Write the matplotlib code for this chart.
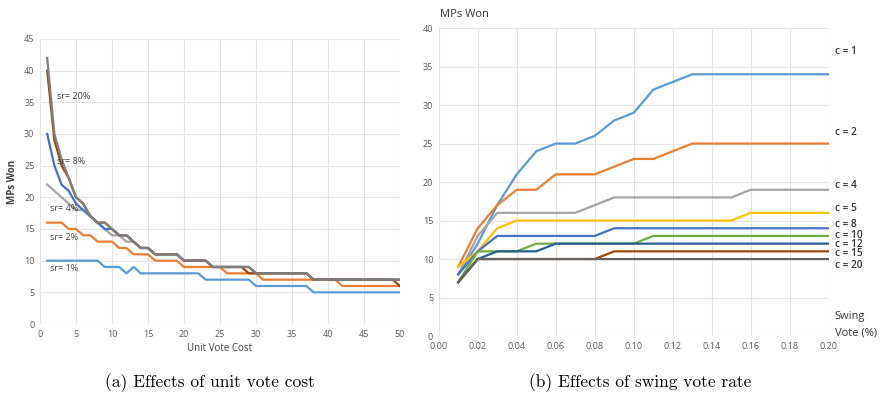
import matplotlib.pyplot as plt
import numpy as np

# ---- left panel: unit vote cost ----
cost = list(range(1, 51))
sr1 = [10]*8 + [9]*3 + [8, 9] + [8]*9 + [7]*7 + [6]*8 + [5]*13
sr2 = [16]*3 + [15]*2 + [14]*2 + [13]*3 + [12]*2 + [11]*3 + [10]*4 + [9]*6 + [8]*5 + [7]*11 + [6]*9
sr4 = [22, 21, 20, 19, 18, 18, 17, 16, 15, 14, 14, 13, 13, 12, 12] + [11]*4 + [10]*4 + [9]*6 + [8]*8 + [7]*13
sr8 = [30, 25, 22, 21, 19, 18, 17, 16, 15, 15, 14, 14, 13, 12, 12] + [11]*4 + [10]*4 + [9]*6 + [8]*8 + [7]*13
sr20 = [40, 29, 25, 23, 20, 19, 17, 16, 16, 15, 14, 14, 13, 12, 12] + [11]*4 + [10]*4 + [9]*5 + [8]*9 + [7]*12 + [6]
srtop = [42, 30, 26, 23, 20, 19, 17, 16, 16, 15, 14, 14, 13, 12, 12] + [11]*4 + [10]*4 + [9]*6 + [8]*8 + [7]*13

left_series = [sr1, sr2, sr4, sr8, sr20, srtop]
left_colors = ['#5B9BD5', '#ED7D31', '#A5A5A5', '#4472C4', '#9E480E', '#7F7F7F']
left_labels = ['sr= 20%', 'sr= 8%', 'sr= 4%', 'sr= 2%', 'sr= 1%']
left_label_pos = [(2.4, 35.9), (2.4, 25.7), (1.4, 18.3), (1.4, 13.6), (1.4, 8.8)]

# ---- right panel: swing vote rate ----
swing = [0.01, 0.02, 0.03, 0.04, 0.05, 0.06, 0.07, 0.08, 0.09, 0.10,
         0.11, 0.12, 0.13, 0.14, 0.15, 0.16, 0.17, 0.18, 0.19, 0.20]
c1 = [8, 12, 17, 21, 24, 25, 25, 26, 28, 29, 32, 33, 34, 34, 34, 34, 34, 34, 34, 34]
c2 = [9, 14, 17, 19, 19, 21, 21, 21, 22, 23, 23, 24, 25, 25, 25, 25, 25, 25, 25, 25]
c4 = [8, 13, 16, 16, 16, 16, 16, 17, 18, 18, 18, 18, 18, 18, 18, 19, 19, 19, 19, 19]
c5 = [9, 11, 14, 15, 15, 15, 15, 15, 15, 15, 15, 15, 15, 15, 15, 16, 16, 16, 16, 16]
c8 = [8, 11, 13, 13, 13, 13, 13, 13, 14, 14, 14, 14, 14, 14, 14, 14, 14, 14, 14, 14]
c10 = [7, 11, 11, 11, 12, 12, 12, 12, 12, 12, 13, 13, 13, 13, 13, 13, 13, 13, 13, 13]
c12 = [7, 10, 11, 11, 11, 12, 12, 12, 12, 12, 12, 12, 12, 12, 12, 12, 12, 12, 12, 12]
c15 = [7, 10, 10, 10, 10, 10, 10, 10, 11, 11, 11, 11, 11, 11, 11, 11, 11, 11, 11, 11]
c20 = [7, 10, 10, 10, 10, 10, 10, 10, 10, 10, 10, 10, 10, 10, 10, 10, 10, 10, 10, 10]

right_series = [c1, c2, c4, c5, c8, c10, c12, c15, c20]
right_colors = ['#5B9BD5', '#ED7D31', '#A5A5A5', '#FFC000', '#4472C4',
                '#70AD47', '#255E91', '#9E480E', '#636363']
right_labels = ['c = 1', 'c = 2', 'c = 4', 'c = 5', 'c = 8', 'c = 10', 'c = 12', 'c = 15', 'c = 20']
right_label_y = [37, 26.5, 19.5, 16.6, 14.5, 13.1, 11.9, 10.7, 9.1]

tick_col = '#595959'
grid_col = '#E4E4E4'
font = ['Open Sans', 'DejaVu Sans']

fig = plt.figure(figsize=(8.81, 4.01), dpi=100)
ax1 = fig.add_axes([0.0454, 0.192, 0.4086, 0.711])
ax2 = fig.add_axes([0.498, 0.162, 0.4427, 0.768])

for ax in (ax1, ax2):
    for s in ax.spines.values():
        s.set_visible(False)
    ax.grid(True, color=grid_col, lw=0.8)
    ax.set_axisbelow(True)
    ax.tick_params(length=0, labelsize=6.5, colors=tick_col, pad=4)

# left
for ys, col in zip(left_series, left_colors):
    ax1.plot(cost, ys, color=col, lw=1.6)
ax1.set_xlim(0, 50)
ax1.set_ylim(0, 45)
ax1.set_xticks(range(0, 51, 5))
ax1.set_yticks(range(0, 46, 5))
ax1.set_xlabel('Unit Vote Cost', fontsize=7, color='#404040', family=font, labelpad=3)
ax1.set_ylabel('MPs Won', fontsize=7, color='#404040', family=font, labelpad=4, fontweight='bold')
for lab, (x, y) in zip(left_labels, left_label_pos):
    ax1.text(x, y, lab, fontsize=6.5, color='#404040', va='center', family=font)

# right
for ys, col in zip(right_series, right_colors):
    ax2.plot(swing, ys, color=col, lw=1.6)
ax2.set_xlim(0, 0.20)
ax2.set_ylim(0, 40)
ax2.set_xticks(np.arange(0, 0.201, 0.02))
ax2.set_xticklabels(['%.2f' % v for v in np.arange(0, 0.201, 0.02)])
ax2.set_yticks(range(0, 41, 5))
for lab, y in zip(right_labels, right_label_y):
    ax2.text(0.203, y, lab, fontsize=7.3, color='#333333', va='center', family=font,
             fontweight='semibold', clip_on=False)
ax2.text(0.203, 2.6, 'Swing', fontsize=8, color='#333333', va='center', family=font, clip_on=False)
ax2.text(0.203, 0.4, 'Vote (%)', fontsize=8, color='#333333', va='center', family=font, clip_on=False)
fig.text(0.499, 0.965, 'MPs Won', fontsize=8, color='#333333', va='center', family=font)

for ax in (ax1, ax2):
    for lab in ax.get_xticklabels() + ax.get_yticklabels():
        lab.set_family(font)

# captions
fig.text(0.238, 0.045, '(a) Effects of unit vote cost', ha='center', va='center',
         fontsize=12.5, family='cmr10')
fig.text(0.727, 0.045, '(b) Effects of swing vote rate', ha='center', va='center',
         fontsize=12.5, family='cmr10')

fig.savefig('out.png', dpi=100)
